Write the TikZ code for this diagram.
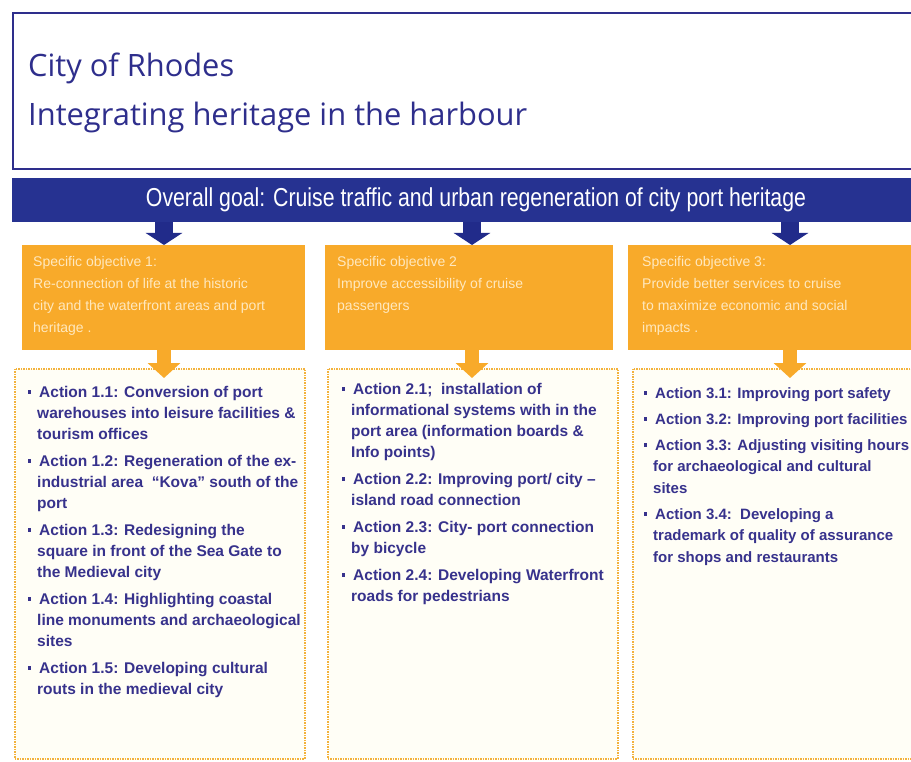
\documentclass[tikz,border=0pt]{standalone}
\usepackage{fontspec}
\setmainfont{Liberation Sans}
\newfontfamily\titlefont{Open Sans}
\newfontfamily\goalfont{Liberation Sans}[FakeStretch=0.82]
\usetikzlibrary{arrows.meta,calc}
\definecolor{navy}{RGB}{46,46,140}
\definecolor{bannerblue}{RGB}{38,50,145}
\definecolor{arrowblue}{RGB}{33,43,138}
\definecolor{orangebox}{RGB}{248,170,42}
\definecolor{objtext}{RGB}{255,232,190}
\definecolor{acttext}{RGB}{55,50,140}
\definecolor{dotborder}{RGB}{243,178,60}
\definecolor{actfill}{RGB}{255,254,246}
\newcommand{\bul}{\llap{\textcolor{acttext}{\raisebox{3.5pt}{\rule{3.6pt}{3.6pt}}}\hspace{6pt}}}
\begin{document}
\begin{tikzpicture}[x=1pt,y=-1pt,
  titlestyle/.style={anchor=base west, inner sep=0, text=navy, font=\titlefont\fontsize{28}{32}\selectfont},
  objbox/.style={fill=orangebox, draw=none, anchor=north west, inner sep=0, minimum height=105pt},
  objtextstyle/.style={anchor=north west, inner sep=0, align=left, text=objtext,
     font=\fontsize{14}{22}\selectfont},
  actbox/.style={draw=dotborder, densely dotted, line width=1.5pt, fill=actfill, anchor=north west,
     inner sep=0, minimum width=290pt, minimum height=390pt},
  item/.style={anchor=north west, inner sep=0, align=left, text=acttext,
     font=\bfseries\fontsize{15.5}{21}\selectfont},
  itemthree/.style={item, font=\bfseries\fontsize{15}{21.5}\selectfont},
  bluearrow/.style={draw=arrowblue, line width=18pt, -{Triangle[width=36pt,length=12pt]}},
  orangearrow/.style={draw=orangebox, line width=14pt, -{Triangle[width=32pt,length=15pt]}}
]
\useasboundingbox (0,0) rectangle (911,762);
\clip (0,0) rectangle (911,762);
\fill[white] (0,0) rectangle (911,762);

% title box
\node[draw=navy, line width=2pt, anchor=north west, minimum width=920pt, minimum height=156pt, inner sep=0] (titlebox) at (12,12) {};
\node[titlestyle] (t1) at (28,77) {\resizebox{206pt}{!}{City of Rhodes}};
\node[titlestyle] (t2) at (28,126) {\resizebox{499pt}{!}{Integrating heritage in the harbour}};

% banner
\node[fill=bannerblue, anchor=north west, minimum width=920pt, minimum height=44pt, inner sep=0] (goal) at (12,178) {};
\node[anchor=base, inner sep=0, text=white] (goaltext) at (476,207)
  {\resizebox{660pt}{!}{\goalfont\fontsize{20}{24}\selectfont Overall goal: Cruise traffic and urban regeneration of city port heritage}};

% arrow positions
\coordinate (c1) at (164,0);
\coordinate (c2) at (472,0);
\coordinate (c3) at (790,0);

% objective boxes
\node[objbox, minimum width=283pt] (o1) at (22,245) {};
\node[objbox, minimum width=288pt] (o2) at (325,245) {};
\node[objbox, minimum width=290pt] (o3) at (628,245) {};

\node[objtextstyle] (o1t) at (33,256) {Specific objective 1:\\Re-connection of life at the historic\\city and the waterfront areas and port\\heritage .};
\node[objtextstyle] (o2t) at (337,256) {Specific objective 2\\Improve accessibility of cruise\\passengers};
\node[objtextstyle] (o3t) at (642,256) {Specific objective 3:\\Provide better services to cruise\\to maximize economic and social\\impacts .};

% blue arrows
\draw[bluearrow] (goal.south -| c1) -- (o1.north -| c1);
\draw[bluearrow] (goal.south -| c2) -- (o2.north -| c2);
\draw[bluearrow] (goal.south -| c3) -- (o3.north -| c3);

% action boxes
\node[actbox] (a1) at (14,368) {};
\node[actbox] (a2) at (327,368) {};
\node[actbox] (a3) at (632,368) {};

% orange arrows
\draw[orangearrow] (o1.south -| c1) -- ([yshift=-10pt]a1.north -| c1);
\draw[orangearrow] (o2.south -| c2) -- ([yshift=-10pt]a2.north -| c2);
\draw[orangearrow] (o3.south -| c3) -- ([yshift=-10pt]a3.north -| c3);

% actions box 1
\node[item] (i11) at (37,386) {\bul\hspace*{2pt}Action 1.1: Conversion of port\\warehouses into leisure facilities \&\\tourism offices};
\node[item] (i12) at (37,455) {\bul\hspace*{2pt}Action 1.2: Regeneration of the ex-\\industrial area\ \ “Kova” south of the\\port};
\node[item] (i13) at (37,524) {\bul\hspace*{2pt}Action 1.3: Redesigning the\\square in front of the Sea Gate to\\the Medieval city};
\node[item] (i14) at (37,593) {\bul\hspace*{2pt}Action 1.4: Highlighting coastal\\line monuments and archaeological\\sites};
\node[item] (i15) at (37,662) {\bul\hspace*{2pt}Action 1.5: Developing cultural\\routs in the medieval city};

% actions box 2
\node[item] (i21) at (351,383) {\bul\hspace*{2pt}Action 2.1;\ \ installation of\\informational systems with in the\\port area (information boards \&\\Info points)};
\node[item] (i22) at (351,473) {\bul\hspace*{2pt}Action 2.2: Improving port/ city –\\island road connection};
\node[item] (i23) at (351,521) {\bul\hspace*{2pt}Action 2.3: City- port connection\\by bicycle};
\node[item] (i24) at (351,569) {\bul\hspace*{2pt}Action 2.4: Developing Waterfront\\roads for pedestrians};

% actions box 3
\node[itemthree] (i31) at (653,387) {\bul\hspace*{2pt}Action 3.1: Improving port safety};
\node[itemthree] (i32) at (653,413) {\bul\hspace*{2pt}Action 3.2: Improving port facilities};
\node[itemthree] (i33) at (653,439) {\bul\hspace*{2pt}Action 3.3: Adjusting visiting hours\\for archaeological and cultural\\sites};
\node[itemthree] (i34) at (653,508) {\bul\hspace*{2pt}Action 3.4:\ \ Developing a\\trademark of quality of assurance\\for shops and restaurants};
\end{tikzpicture}
\end{document}
